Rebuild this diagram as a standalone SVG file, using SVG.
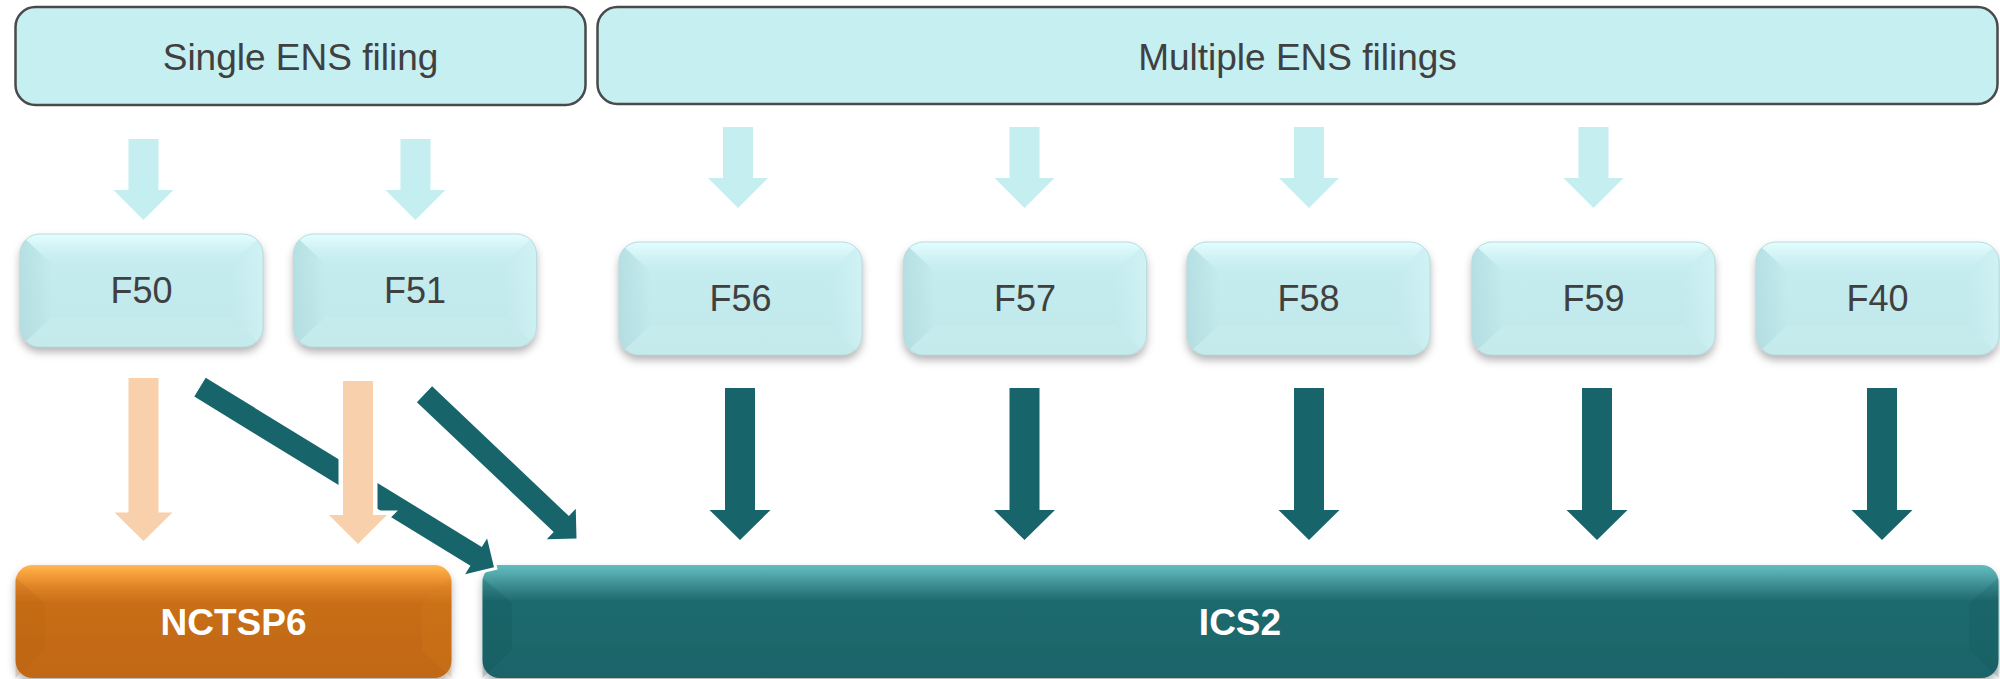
<svg xmlns="http://www.w3.org/2000/svg" xmlns:xlink="http://www.w3.org/1999/xlink" width="2000" height="679" viewBox="0 0 2000 679">
<style>
.hdr{fill:#C6EFF1;stroke:#4A4A4A;stroke-width:2.5}
.htxt{font-family:"Liberation Sans",Arial,sans-serif;font-size:37px;fill:#404040;text-anchor:middle}
.ftxt{font-family:"Liberation Sans",Arial,sans-serif;font-size:36px;fill:#404040;text-anchor:middle}
.btxt{font-family:"Liberation Sans",Arial,sans-serif;font-size:37px;font-weight:bold;fill:#FFFFFF;text-anchor:middle}
.light{fill:#C5EEF0}
.dark{fill:#17656A}
.peach{fill:#F8D0AC;stroke:#FFFFFF;stroke-width:9;paint-order:stroke}
.diag{fill:#17656A;stroke:#FFFFFF;stroke-width:6;paint-order:stroke;stroke-linejoin:miter}
</style>
<defs>
<filter id="shadow" x="-10%" y="-10%" width="120%" height="135%">
<feDropShadow dx="0" dy="5" stdDeviation="4" flood-color="#000" flood-opacity="0.3"/>
</filter>
<linearGradient id="fGrad" x1="0" y1="0" x2="0" y2="1">
<stop offset="0" stop-color="#C6EDF0"/><stop offset="1" stop-color="#C0E7EA"/>
</linearGradient>
<linearGradient id="fTop" x1="0" y1="0" x2="0" y2="1">
<stop offset="0" stop-color="#E6FEFF"/><stop offset="1" stop-color="#C6EDF0" stop-opacity="0.3"/>
</linearGradient>
<linearGradient id="fLeft" x1="0" y1="0" x2="1" y2="0">
<stop offset="0" stop-color="#A9D5D9" stop-opacity="0.55"/><stop offset="1" stop-color="#A9D5D9" stop-opacity="0"/>
</linearGradient>
<linearGradient id="fRight" x1="1" y1="0" x2="0" y2="0">
<stop offset="0" stop-color="#D6F6F8" stop-opacity="0.6"/><stop offset="1" stop-color="#D6F6F8" stop-opacity="0"/>
</linearGradient>
<linearGradient id="oGrad" x1="0" y1="0" x2="0" y2="1">
<stop offset="0" stop-color="#FFB954"/><stop offset="0.07" stop-color="#F8A23C"/><stop offset="0.2" stop-color="#DD8226"/><stop offset="0.34" stop-color="#C86E17"/><stop offset="1" stop-color="#C06813"/>
</linearGradient>
<linearGradient id="tGrad" x1="0" y1="0" x2="0" y2="1">
<stop offset="0" stop-color="#62BCBF"/><stop offset="0.07" stop-color="#55ACAF"/><stop offset="0.2" stop-color="#37878B"/><stop offset="0.32" stop-color="#1D6A6E"/><stop offset="1" stop-color="#1A6469"/>
</linearGradient>
<clipPath id="fClip"><rect width="243" height="113" rx="20"/></clipPath>
<g id="fbox">
<rect width="243" height="113" rx="20" fill="url(#fGrad)" filter="url(#shadow)"/>
<g clip-path="url(#fClip)">
<polygon points="0,0 32,30 32,83 0,113" fill="url(#fLeft)"/>
<polygon points="243,0 211,30 211,83 243,113" fill="url(#fRight)"/>
<polygon points="0,0 243,0 211,30 32,30" fill="url(#fTop)"/>
<polygon points="0,113 32,83 211,83 243,113" fill="#CAEFF1" opacity="0.4"/>
</g>
<rect width="243" height="113" rx="20" fill="none" stroke="#B8DCDF" stroke-width="1"/>
</g>
</defs>

<g id="single-ens">
<rect class="hdr" x="15.5" y="7" width="570" height="98" rx="20"/>
<text class="htxt" x="300.5" y="70">Single ENS filing</text>
</g>
<g id="multiple-ens">
<rect class="hdr" x="597.5" y="7" width="1400" height="97" rx="20"/>
<text class="htxt" x="1297.5" y="70">Multiple ENS filings</text>
</g>

<g id="F50"><use xlink:href="#fbox" href="#fbox" x="20" y="234"/><text class="ftxt" x="141.5" y="303">F50</text></g>
<g id="F51"><use xlink:href="#fbox" href="#fbox" x="293.5" y="234"/><text class="ftxt" x="415" y="303">F51</text></g>
<g id="F56"><use xlink:href="#fbox" href="#fbox" x="619" y="242"/><text class="ftxt" x="740.5" y="311">F56</text></g>
<g id="F57"><use xlink:href="#fbox" href="#fbox" x="903.5" y="242"/><text class="ftxt" x="1025" y="311">F57</text></g>
<g id="F58"><use xlink:href="#fbox" href="#fbox" x="1187" y="242"/><text class="ftxt" x="1308.5" y="311">F58</text></g>
<g id="F59"><use xlink:href="#fbox" href="#fbox" x="1472" y="242"/><text class="ftxt" x="1593.5" y="311">F59</text></g>
<g id="F40"><use xlink:href="#fbox" href="#fbox" x="1756" y="242"/><text class="ftxt" x="1877.5" y="311">F40</text></g>

<g id="NCTSP6">
<rect x="15.5" y="565" width="436" height="113" rx="17" fill="url(#oGrad)" filter="url(#shadow)"/>
<polygon points="15.5,578 45,603 45,650 15.5,678" fill="#B25E0E" opacity="0.2"/>
<polygon points="451.5,578 422,603 422,650 451.5,678" fill="#D8801F" opacity="0.2"/>
<text class="btxt" x="233.5" y="635">NCTSP6</text>
</g>
<g id="ICS2">
<rect x="482.5" y="565" width="1516" height="113" rx="17" fill="url(#tGrad)" filter="url(#shadow)"/>
<polygon points="482.5,578 512,603 512,650 482.5,678" fill="#0F5256" opacity="0.2"/>
<polygon points="1998.5,578 1969,603 1969,650 1998.5,678" fill="#0F5256" opacity="0.18"/>
<text class="btxt" x="1240" y="635">ICS2</text>
</g>

<g id="connectors">
<path class="light" d="M128.5 139 H158.5 V190 H173.5 L143.5 220 L113.5 190 H128.5 Z"/>
<path class="light" d="M400.5 139 H430.5 V190 H445.5 L415.5 220 L385.5 190 H400.5 Z"/>
<path class="light" d="M723 127 H753 V178 H768 L738 208 L708 178 H723 Z"/>
<path class="light" d="M1009.5 127 H1039.5 V178 H1054.5 L1024.5 208 L994.5 178 H1009.5 Z"/>
<path class="light" d="M1294 127 H1324 V178 H1339 L1309 208 L1279 178 H1294 Z"/>
<path class="light" d="M1578.5 127 H1608.5 V178 H1623.5 L1593.5 208 L1563.5 178 H1578.5 Z"/>

<path class="dark" d="M725 388 H755 V510 H770.5 L740 540 L709.5 510 H725 Z"/>
<path class="dark" d="M1009.5 388 H1039.5 V510 H1055 L1024.5 540 L994 510 H1009.5 Z"/>
<path class="dark" d="M1294 388 H1324 V510 H1339.5 L1309 540 L1278.5 510 H1294 Z"/>
<path class="dark" d="M1582 388 H1612 V510 H1627.5 L1597 540 L1566.5 510 H1582 Z"/>
<path class="dark" d="M1867 388 H1897 V510 H1912.5 L1882 540 L1851.5 510 H1867 Z"/>

<path class="diag" d="M205.7 377.8 L481.8 546.9 L487.1 538.4 L494 567.3 L465.1 574.2 L470.4 565.7 L194.3 396.6 Z"/>
<path class="diag" d="M432.1 386.3 L568.9 516.1 L575.75 508.8 L576.5 538.5 L546.8 539.3 L553.7 532 L416.9 402.3 Z"/>

<path class="peach" d="M128.5 378 H158.5 V512.5 H172.5 L143.5 541 L114.5 512.5 H128.5 Z"/>
<path class="peach" d="M343 381 H373 V515 H387 L358 544 L329 515 H343 Z"/>
</g>
</svg>
